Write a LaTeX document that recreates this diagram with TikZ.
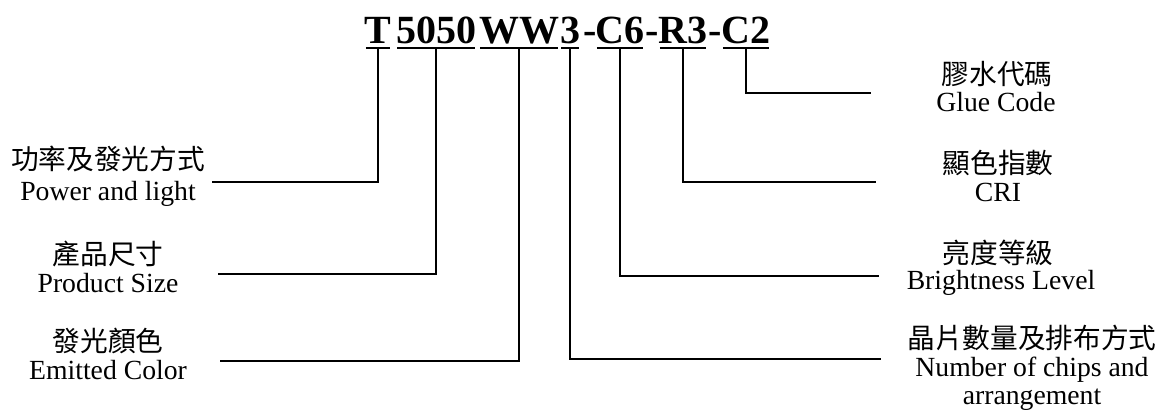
\documentclass[tikz,border=0pt]{standalone}
\usepackage{fontspec}
\setmainfont{Liberation Serif}
\newfontfamily\cjk{Noto Sans CJK TC}
\begin{document}
\begin{tikzpicture}[x=1pt, y=-1pt, line width=1.6pt,
        codenode/.style={anchor=base, inner xsep=-2pt, inner ysep=4pt, text depth=0pt,
                         font=\fontsize{40}{40}\selectfont\bfseries},
        zhlabel/.style={anchor=base, inner sep=0pt, font=\cjk\fontsize{27.7}{30}\selectfont},
        enlabel/.style={anchor=base, inner sep=0pt, font=\fontsize{27.7}{30}\selectfont}]
        \useasboundingbox (0,0) rectangle (1160,418);
        % ---- 型号 ----
        \node[codenode] (pw)  at (378, 43) {T};
        \node[codenode] (sz)  at (436, 43) {5050};
        \node[codenode] (col) at (519, 43) {WW};
        \node[codenode] (chp) at (570, 43) {3};
        \node[codenode] (h1)  at (590, 43) {-};
        \node[codenode] (brt) at (620, 43) {C6};
        \node[codenode] (h2)  at (652, 43) {-};
        \node[codenode] (cri) at (683, 43) {R3};
        \node[codenode] (h3)  at (715, 43) {-};
        \node[codenode] (glu) at (746, 43) {C2};
        % ---- 左侧说明 ----
        \node[zhlabel] (pwzh)  at (108, 169) {功率及發光方式};
        \node[enlabel] (pwen)  at (108, 200) {Power and light};
        \node[zhlabel] (szzh)  at (108, 264) {產品尺寸};
        \node[enlabel] (szen)  at (108, 292) {Product Size};
        \node[zhlabel] (colzh) at (108, 351) {發光顏色};
        \node[enlabel] (colen) at (108, 379) {Emitted Color};
        % ---- 右侧说明 ----
        \node[zhlabel] (gluzh) at (997, 84)  {膠水代碼};
        \node[enlabel] (gluen) at (996, 111) {Glue Code};
        \node[zhlabel] (crizh) at (998, 173) {顯色指數};
        \node[enlabel] (crien) at (998, 201) {CRI};
        \node[zhlabel] (brtzh) at (998, 263) {亮度等級};
        \node[enlabel] (brten) at (1001, 289) {Brightness Level};
        \node[zhlabel] (chpzh) at (1032, 348) {晶片數量及排布方式};
        \node[enlabel] (chpen) at (1032, 376) {Number of chips and};
        \node[enlabel] (chpen2) at (1032, 404) {arrangement};
        % ---- 引线端点 ----
        \coordinate (pwend)  at (212, 182);
        \coordinate (szend)  at (218, 274);
        \coordinate (colend) at (220, 361);
        \coordinate (gluend) at (871, 93);
        \coordinate (criend) at (876, 182);
        \coordinate (brtend) at (879, 276);
        \coordinate (chpend) at (881, 359);
        % ---- 下划线 ----
        \foreach \a in {pw, sz, col, chp, brt, cri, glu}
          \draw[line width=2pt] (\a.south west) -- (\a.south east);
        % ---- 引线 ----
        \foreach \a/\b in {pw/pwend, sz/szend, col/colend, chp/chpend, brt/brtend, cri/criend, glu/gluend}
          \draw (\a.south) |- (\b);
    \end{tikzpicture}
\end{document}
